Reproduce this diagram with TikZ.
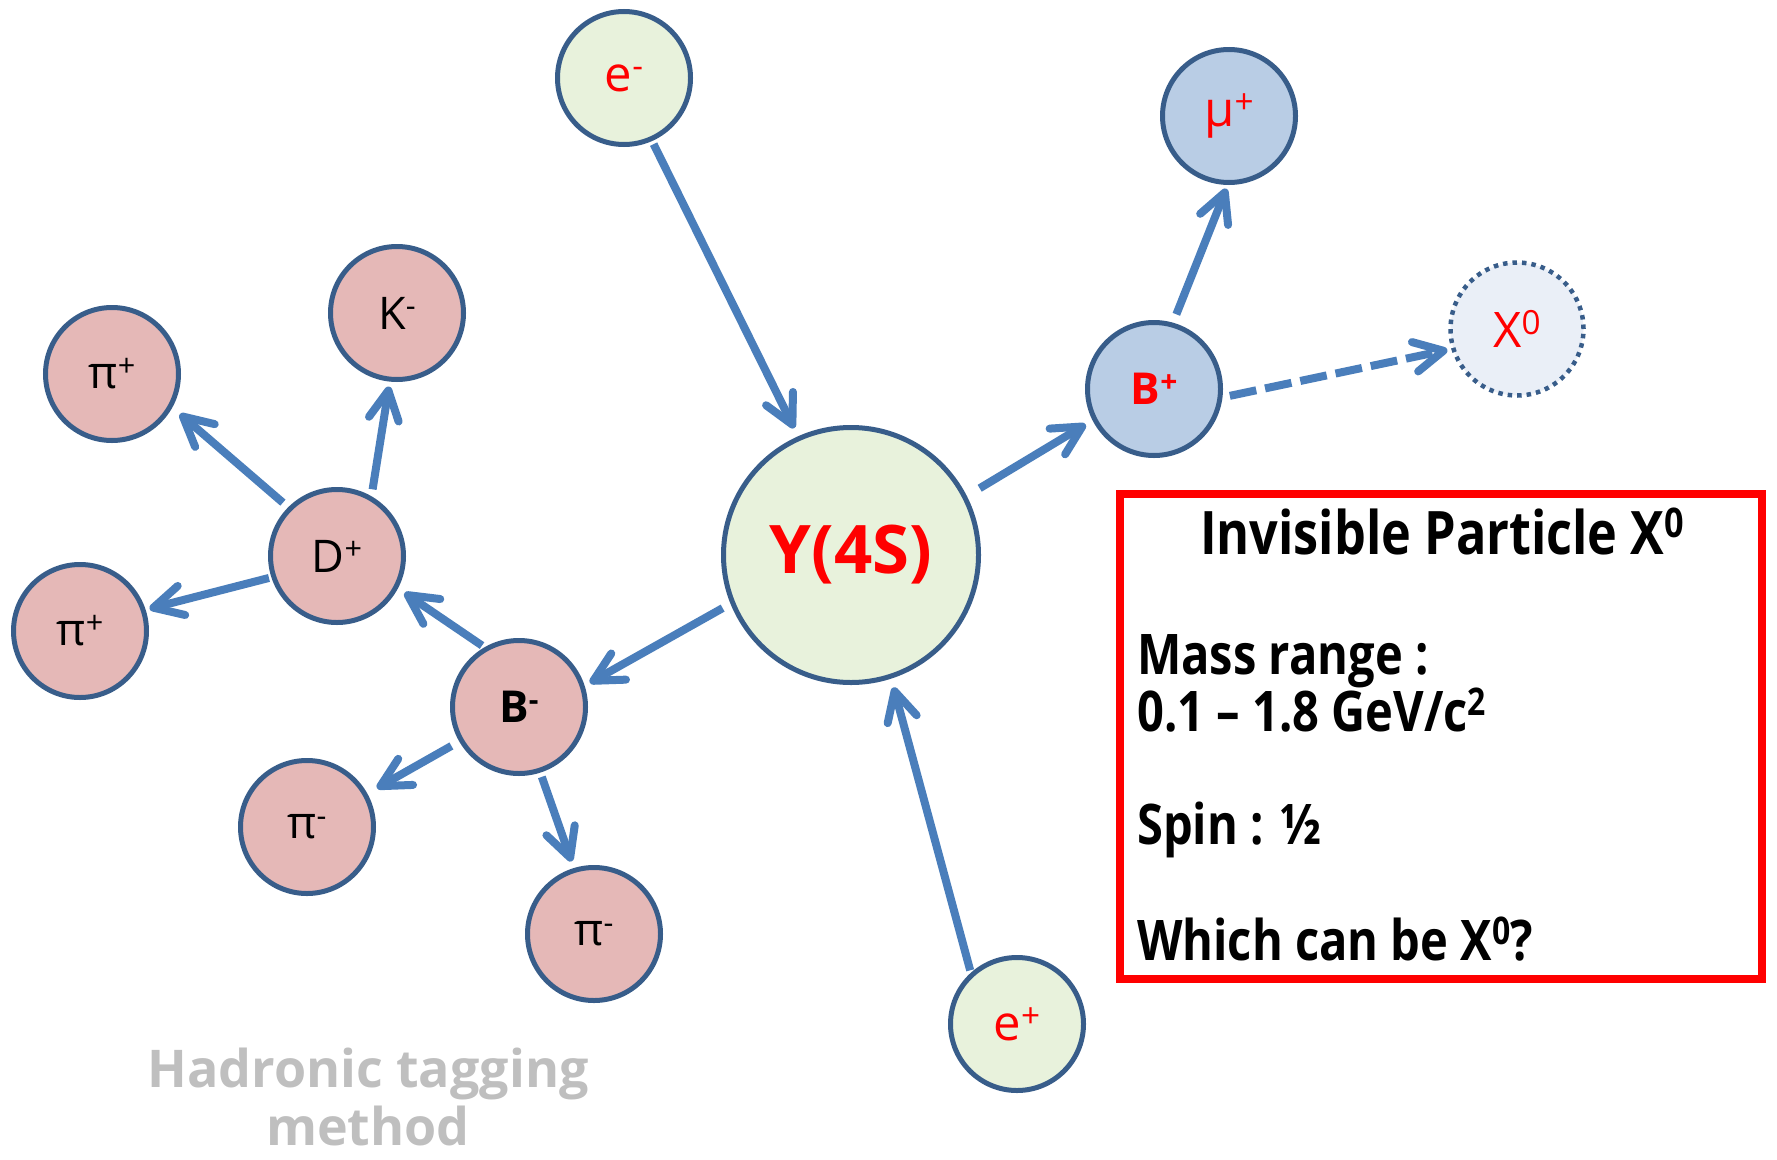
\documentclass[tikz,border=0pt]{standalone}
\usepackage{fontspec}
\setmainfont{Open Sans}
\newfontfamily\boxfont[FakeStretch=0.84]{Open Sans}
\usetikzlibrary{arrows.meta}

\definecolor{rim}{HTML}{385D8A}
\definecolor{flow}{HTML}{4A7EBB}
\definecolor{beamfill}{HTML}{E8F2DC}
\definecolor{tagfill}{HTML}{E5B8B7}
\definecolor{sigfill}{HTML}{B9CDE5}
\definecolor{invfill}{HTML}{EAEFF7}
\definecolor{note}{HTML}{BFBFBF}

% raised charge / exponent, top aligned with the capitals
\newcommand\sps[1]{\raisebox{0.27em}{\scalebox{0.68}{#1}}}

\tikzset{
  particle/.style={circle, draw=rim, line width=5pt, minimum size=133pt, inner sep=0pt},
  beam/.style={particle, fill=beamfill},
  tagged/.style={particle, fill=tagfill},
  signal/.style={particle, fill=sigfill},
  lab/.style={font=\fontsize{45}{52}\selectfont},
  redlab/.style={font=\fontsize{49}{56}\selectfont, text=red},
  boldlab/.style={font=\fontsize{44}{50}\selectfont\bfseries},
  link/.style={draw=flow, line width=8pt,
    -{Straight Barb[length=29pt, width=30pt, round]}},
  boxline/.style={anchor=base west, inner sep=0pt,
    font=\boxfont\fontsize{56}{64}\selectfont\bfseries},
}

\begin{document}
\begin{tikzpicture}[x=1pt, y=-1pt]
\useasboundingbox (0,0) rectangle (1777,1159);

% particles
\node[beam, redlab] (em) at (624,78) {e\sps{-}};
\node[beam, redlab] (ep) at (1017,1024) {e\sps{+}};
\node[beam, minimum size=255pt, text=red,
      font=\fontsize{67}{76}\selectfont\bfseries] (Y) at (851,555) {Y(4S)};
\node[signal, boldlab, text=red] (Bp) at (1154,389) {B\sps{+}};
\node[signal, redlab] (mu) at (1229,116) {μ\sps{+}};
\node[particle, fill=invfill, line width=4.5pt, dash pattern=on 4.5pt off 5pt, redlab] (X) at (1517,329) {X\sps{0}};
\node[tagged, boldlab] (Bm) at (519,707) {B\sps{-}};
\node[tagged, lab] (D) at (337,556) {D\sps{+}};
\node[tagged, lab] (K) at (397,313) {K\sps{-}};
\node[tagged, lab] (pit) at (112,374) {π\sps{+}};
\node[tagged, lab] (pil) at (80,631) {π\sps{+}};
\node[tagged, lab] (pim1) at (307,827) {π\sps{-}};
\node[tagged, lab] (pim2) at (594,934) {π\sps{-}};

% decay chain
\draw[link, shorten <=3.5pt, shorten >=9pt] (em.-66) -- (Y.114.5);
\draw[link, shorten <=2.5pt, shorten >=9pt] (ep.132) -- (Y.-72.5);
\draw[link, shorten <=15pt, shorten >=8pt] (Y.27.6) -- (Bp.207);
\draw[link, shorten <=9pt, shorten >=6pt] (Y.202.7) -- (Bm.18.7);
\draw[link, shorten <=9pt, shorten >=4pt] (Bp.74.6) -- (mu.-91.6);
\draw[link, dash pattern=on 27pt off 9pt, shorten <=7.5pt, shorten >=4pt] (Bp.-7) -- (X.197);
\draw[link, shorten <=3pt, shorten >=8pt] (Bm.120) -- (D.-28);
\draw[link, shorten <=9pt, shorten >=11pt] (Bm.210) -- (pim1.29);
\draw[link, shorten <=4.5pt, shorten >=7pt] (Bm.-72) -- (pim2.107);
\draw[link, shorten <=7pt, shorten >=10pt] (D.135) -- (pit.-29.5);
\draw[link, shorten <=7pt, shorten >=5pt] (D.60) -- (K.-96);
\draw[link, shorten <=2.5pt, shorten >=4pt] (D.198) -- (pil.18);

% information box
\node[draw=red, line width=8pt, minimum width=642pt, minimum height=485pt,
      inner sep=0pt] (info) at (1441,736.5) {};
\node[anchor=base, inner sep=0pt,
      font=\boxfont\fontsize{60}{68}\selectfont\bfseries] (title) at (1442,554)
      {Invisible Particle X\sps{0}};
\node[boxline] (mass) at (1137,674) {Mass range :};
\node[boxline] (range) at (1137,731) {0.1 – 1.8 GeV/c\sps{2}};
\node[boxline] (spin) at (1137,844) {Spin : ½};
\node[boxline] (ask) at (1137,960) {Which can be X\sps{0}?};

% method label
\node[anchor=base, inner sep=0pt, text=note,
      font=\fontsize{52}{60}\selectfont\bfseries] (tag1) at (368,1087) {Hadronic tagging};
\node[anchor=base, inner sep=0pt, text=note,
      font=\fontsize{52}{60}\selectfont\bfseries] (tag2) at (368,1145) {method};
\end{tikzpicture}
\end{document}
